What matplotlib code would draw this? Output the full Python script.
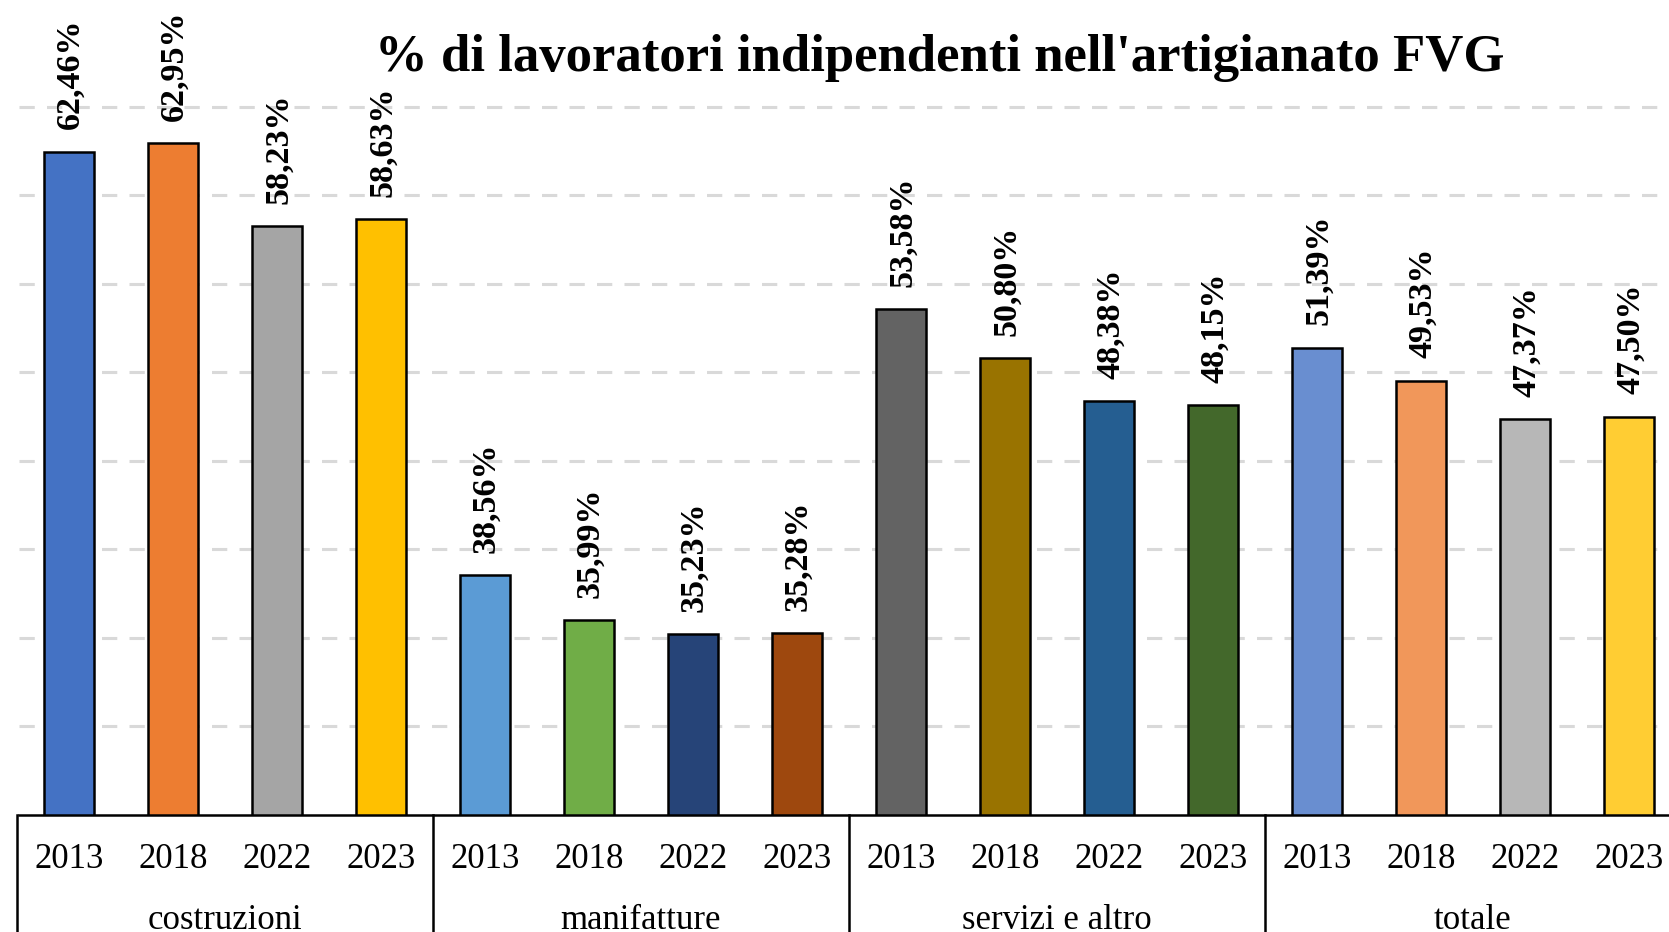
import matplotlib
matplotlib.use("Agg")
import matplotlib.pyplot as plt

# dati
categorie = ["costruzioni", "manifatture", "servizi e altro", "totale"]
anni = ["2013", "2018", "2022", "2023"]
costruzioni = [62.46, 62.95, 58.23, 58.63]
manifatture = [38.56, 35.99, 35.23, 35.28]
servizi = [53.58, 50.80, 48.38, 48.15]
totale = [51.39, 49.53, 47.37, 47.50]

colori = [
    "#4472C4", "#ED7D31", "#A5A5A5", "#FFC000",
    "#5B9BD5", "#70AD47", "#264478", "#9E480E",
    "#636363", "#997300", "#255E91", "#43682B",
    "#698ED0", "#F1975A", "#B7B7B7", "#FFCD33",
]

plt.rcParams["font.family"] = ["Liberation Serif", "DejaVu Serif"]

valori = costruzioni + manifatture + servizi + totale
pos = list(range(len(valori)))

fig = plt.figure(figsize=(16.69, 9.32), dpi=100)
ax = fig.add_axes([19 / 1669, 117 / 932, 1664 / 1669, 797 / 932])

ax.bar(pos, valori, width=0.48, color=colori, edgecolor="black", linewidth=1.8, zorder=3)

ax.set_xlim(-0.48, 15.52)
ax.set_ylim(25, 70)
ax.set_yticks(range(30, 70, 5))
ax.yaxis.grid(True, color="#D9D9D9", linestyle=(0, (5, 4)), linewidth=2.2, zorder=0)
ax.tick_params(left=False, labelleft=False, bottom=False, labelbottom=False)
for s in ["top", "right", "left"]:
    ax.spines[s].set_visible(False)
ax.spines["bottom"].set_linewidth(1.8)
ax.spines["bottom"].set_zorder(4)

for x, v in zip(pos, valori):
    ax.annotate(f"{v:.2f}%".replace(".", ","), (x, v), xytext=(1, 16), textcoords="offset points",
                rotation=90, ha="center", va="bottom", fontsize=24.5, fontweight="bold")

# etichette asse x (anni e categorie)
tr = ax.get_xaxis_transform()
for i, x in enumerate(pos):
    ax.text(x, -0.056, anni[i % 4], transform=tr, ha="center", va="center", fontsize=25, clip_on=False)
for g, nome in enumerate(categorie):
    ax.text(g * 4 + 1.5, -0.132, nome, transform=tr, ha="center", va="center", fontsize=25, clip_on=False)
    ax.plot([g * 4 - 0.5, g * 4 - 0.5], [0, -0.3], transform=tr, color="black", linewidth=1.8, clip_on=False)
ax.plot([15.5, 15.5], [0, -0.3], transform=tr, color="black", linewidth=1.8, clip_on=False)

fig.text(0.563, 0.938, "% di lavoratori indipendenti nell'artigianato FVG",
         ha="center", va="center", fontsize=38, fontweight="bold")

fig.savefig("out.png", dpi=100)
